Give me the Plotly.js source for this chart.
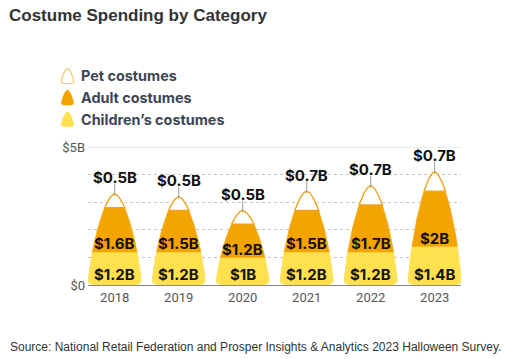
<!DOCTYPE html>
<html>
<head>
<meta charset="utf-8">
<script src="https://cdn.plot.ly/plotly-3.0.1.min.js"></script>
<style>
html,body{margin:0;padding:0;background:#fff;}
#chart{width:509px;height:359px;}
</style>
</head>
<body>
<div id="chart"></div>
<script>
// ---- data ----
const years = ['2018', '2019', '2020', '2021', '2022', '2023'];
const children = [1.2, 1.2, 1.0, 1.2, 1.2, 1.4];
const adult = [1.6, 1.5, 1.2, 1.5, 1.7, 2.0];
const pet = [0.5, 0.5, 0.5, 0.7, 0.7, 0.7];
const seriesNames = ['Pet costumes', 'Adult costumes', "Children\u2019s costumes"];
const yTickVals = [0, 5];
const yTickText = ['$0', '$5B'];

// ---- style ----
const YELLOW = '#FFE04F';
const ORANGE = '#F3A400';
const PET_LINE = '#EDA420';
const FONT = 'Roboto, "Liberation Sans", Arial, sans-serif';
const LABEL_FONT = 'Inter, Roboto, "Liberation Sans", Arial, sans-serif';

// layout geometry
const M = {l: 88, r: 48, t: 147, b: 74};
const W_PX = 509, H_PX = 359;
const plotW = W_PX - M.l - M.r, plotH = H_PX - M.t - M.b;
const xRange = [-0.417, 5.411];
const yRange = [0, 5];
const pxPerX = plotW / (xRange[1] - xRange[0]);
const pxPerY = plotH / (yRange[1] - yRange[0]);

const HALF_W = 27 / pxPerX;      // half width of a candy corn in x units
const RX = 6 / pxPerX, RY = 6 / pxPerY;  // bottom corner radius

function taper(f) {
  f = Math.min(Math.max(f, 0), 1);
  return Math.pow(1 - Math.pow(f, 1.3), 0.6);
}
function halfWidth(y, T, hw, rx, ry) {
  let t = hw * taper(y / T);
  let c = hw;
  if (y < ry) {
    const d = (ry - y) / ry;
    c = (hw - rx) + rx * Math.sqrt(Math.max(0, 1 - d * d));
  }
  return Math.min(t, c);
}
function segment(xc, lo, hi, T, hw, rx, ry) {
  const N = 40;
  const xs = [], ys = [];
  for (let i = 0; i <= N; i++) {
    const y = lo + (hi - lo) * i / N;
    xs.push(xc - halfWidth(y, T, hw, rx, ry)); ys.push(y);
  }
  for (let i = N; i >= 0; i--) {
    const y = lo + (hi - lo) * i / N;
    xs.push(xc + halfWidth(y, T, hw, rx, ry)); ys.push(y);
  }
  xs.push(xs[0]); ys.push(ys[0]);
  return {xs, ys};
}
const fmt = v => '$' + (Number.isInteger(v) ? v : v.toFixed(1)) + 'B';

const traces = [];
const annotations = [];
const labelFont = {family: LABEL_FONT, size: 15, color: '#111', weight: 'bold'};
years.forEach((yr, i) => {
  const c = children[i], a = adult[i], p = pet[i];
  const T = c + a + p;
  const s1 = segment(i, 0, c, T, HALF_W, RX, RY);
  const s2 = segment(i, c, c + a, T, HALF_W, RX, RY);
  const s3 = segment(i, c + a, T, T, HALF_W, RX, RY);
  traces.push({x: s1.xs, y: s1.ys, type: 'scatter', mode: 'lines', fill: 'toself',
    fillcolor: YELLOW, line: {color: YELLOW, width: 0.6}, hoverinfo: 'skip', showlegend: false});
  traces.push({x: s2.xs, y: s2.ys, type: 'scatter', mode: 'lines', fill: 'toself',
    fillcolor: ORANGE, line: {color: ORANGE, width: 0.6}, hoverinfo: 'skip', showlegend: false});
  traces.push({x: s3.xs, y: s3.ys, type: 'scatter', mode: 'lines', fill: 'toself',
    fillcolor: '#ffffff', line: {color: PET_LINE, width: 1.4}, hoverinfo: 'skip', showlegend: false});
  // leader line
  traces.push({x: [i, i], y: [T - 2 / pxPerY, T + 10 / pxPerY], type: 'scatter', mode: 'lines',
    line: {color: '#9a9a9a', width: 1}, hoverinfo: 'skip', showlegend: false});
  annotations.push({x: i, y: T, xref: 'x', yref: 'y', text: fmt(p), showarrow: false,
    yshift: 16, yanchor: 'middle', font: labelFont});
  annotations.push({x: i, y: c, xref: 'x', yref: 'y', text: fmt(a), showarrow: false,
    yshift: 8, yanchor: 'middle', font: labelFont});
  annotations.push({x: i, y: 0, xref: 'x', yref: 'y', text: fmt(c), showarrow: false,
    yshift: 11, yanchor: 'middle', font: labelFont});
});

// legend (custom, candy-corn icons)
const px2paperX = px => (px - M.l) / plotW;
const px2paperY = py => (H_PX - M.b - py) / plotH;
const legendY = [76, 97.5, 119];
const legendFill = ['#ffffff', ORANGE, YELLOW];
const legendLine = ['#F0CC70', ORANGE, YELLOW];
const shapes = [];
seriesNames.forEach((name, k) => {
  const cx = 67.5, cy = legendY[k];
  const h = 15, hw = 6.5;
  const bottom = cy + h / 2;
  const pts = [];
  const N = 24;
  for (let i = 0; i <= N; i++) {
    const yy = h * i / N;
    pts.push([cx - halfWidth(yy, h, hw, 2.5, 2.5), bottom - yy]);
  }
  for (let i = N; i >= 0; i--) {
    const yy = h * i / N;
    pts.push([cx + halfWidth(yy, h, hw, 2.5, 2.5), bottom - yy]);
  }
  const path = 'M' + pts.map(q => px2paperX(q[0]).toFixed(5) + ',' + px2paperY(q[1]).toFixed(5)).join(' L') + ' Z';
  shapes.push({type: 'path', xref: 'paper', yref: 'paper', path: path,
    fillcolor: legendFill[k], line: {color: legendLine[k], width: k === 0 ? 1.2 : 0.5}, layer: 'above'});
  annotations.push({xref: 'paper', yref: 'paper', x: px2paperX(78.5), y: px2paperY(cy),
    xanchor: 'left', yanchor: 'middle', text: name, showarrow: false,
    font: {family: LABEL_FONT, size: 14.4, color: '#3a4656', weight: 'bold'}});
});

// top solid line at $5B
shapes.push({type: 'line', xref: 'paper', yref: 'y', x0: 0, x1: 1, y0: 5, y1: 5,
  line: {color: '#d9d9d9', width: 1}, layer: 'below'});

// source
annotations.push({xref: 'paper', yref: 'paper', x: px2paperX(8), y: px2paperY(347),
  xanchor: 'left', yanchor: 'middle', showarrow: false,
  text: 'Source: National Retail Federation and Prosper Insights &amp; Analytics 2023 Halloween Survey.',
  font: {family: '"Liberation Sans", Arial, sans-serif', size: 12, color: '#333'}});

const layout = {
  width: W_PX, height: H_PX,
  margin: M,
  paper_bgcolor: '#fff', plot_bgcolor: '#fff',
  title: {text: 'Costume Spending by Category', x: 9 / W_PX, xref: 'container', xanchor: 'left',
    y: 1 - 15 / H_PX, yref: 'container', yanchor: 'middle',
    font: {family: '"Liberation Sans", Arial, sans-serif', size: 17, color: '#333', weight: 'bold'}},
  xaxis: {range: xRange, tickvals: years.map((_, i) => i), ticktext: years,
    showgrid: false, zeroline: false, showline: false, ticks: '', ticklabelstandoff: 3,
    tickfont: {family: FONT, size: 13, color: '#555'}, fixedrange: true},
  yaxis: {range: yRange, tickvals: yTickVals, ticktext: yTickText, showgrid: false,
    zeroline: true, zerolinecolor: '#8a8a8a', zerolinewidth: 1, ticks: '', ticklabelstandoff: 2,
    tickfont: {family: FONT, size: 13, color: '#555'}, fixedrange: true,
    minor: {tickvals: [1, 2, 3, 4], showgrid: true, gridcolor: '#c4c4c4', griddash: 'dot', gridwidth: 1, ticks: ''}},
  annotations: annotations,
  shapes: shapes,
  showlegend: false
};
Plotly.newPlot('chart', traces, layout, {displayModeBar: false, staticPlot: true});
</script>
</body>
</html>
